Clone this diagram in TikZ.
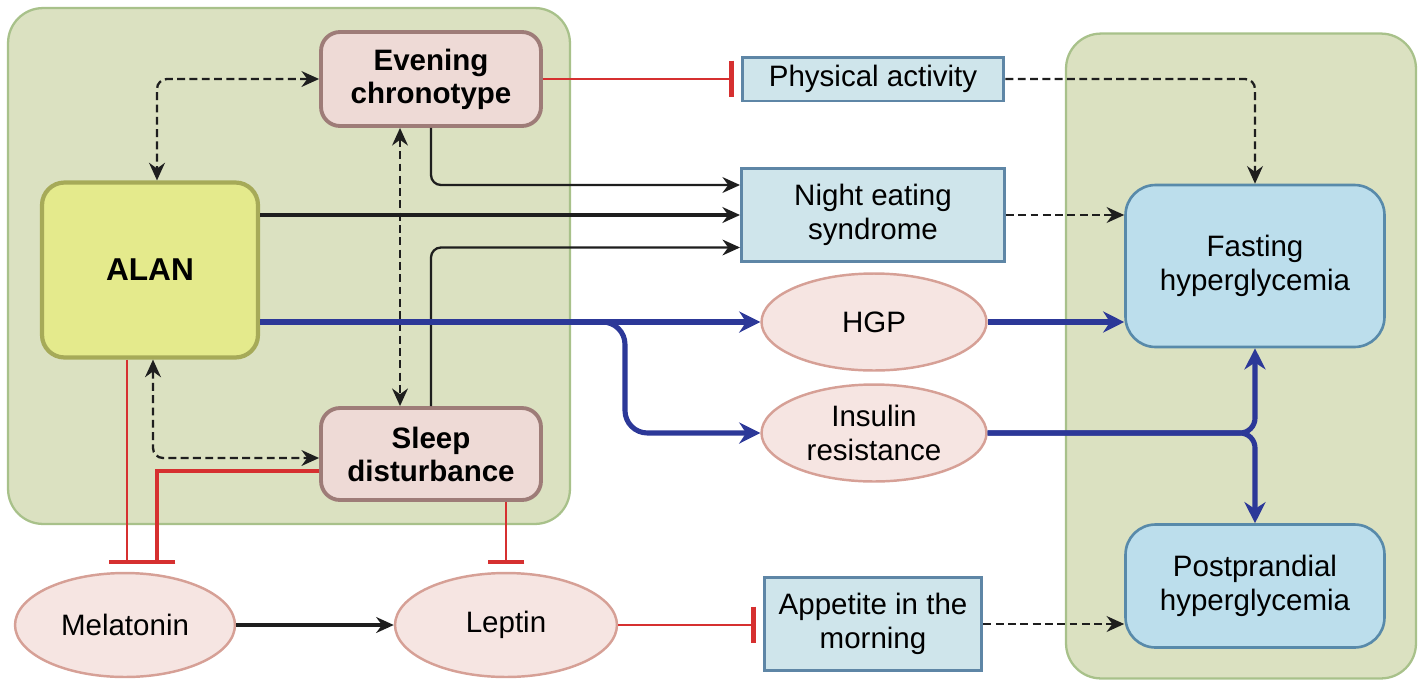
\documentclass[tikz,border=0pt]{standalone}
\usepackage{fontspec}
\setmainfont{Liberation Sans}
\usepackage{tikz}
\usetikzlibrary{shapes.geometric, arrows.meta, positioning, calc}
\definecolor{zonegreen}{RGB}{219,225,193}
\definecolor{zoneedge}{RGB}{168,193,138}
\definecolor{alanfill}{RGB}{228,234,140}
\definecolor{alanedge}{RGB}{166,170,88}
\definecolor{rosefill}{RGB}{238,218,214}
\definecolor{roseedge}{RGB}{158,124,120}
\definecolor{ovalfill}{RGB}{246,229,226}
\definecolor{ovaledge}{RGB}{214,160,150}
\definecolor{skyfill}{RGB}{207,229,235}
\definecolor{skyedge}{RGB}{94,134,166}
\definecolor{outfill}{RGB}{188,222,236}
\definecolor{outedge}{RGB}{88,138,170}
\definecolor{pathblue}{RGB}{44,56,152}
\definecolor{inhibred}{RGB}{214,48,48}
\definecolor{darkgray}{RGB}{30,30,30}

\begin{document}
\begin{tikzpicture}[
        x=0.02cm, y=-0.02cm,
        font=\fontsize{16.8}{19.5}\selectfont,
        zone/.style={rectangle, draw=zoneedge, fill=zonegreen, line width=1.3pt, rounded corners=0.7cm},
        factor/.style={rectangle, draw=roseedge, fill=rosefill, line width=2.2pt, rounded corners=0.38cm, align=center, font=\fontsize{16.8}{18.8}\selectfont\bfseries, minimum width=4.4cm, minimum height=1.86cm},
        source/.style={rectangle, draw=alanedge, fill=alanfill, line width=2.4pt, rounded corners=0.45cm, font=\fontsize{18}{20}\selectfont\bfseries, minimum width=4.32cm, minimum height=3.5cm},
        behav/.style={rectangle, draw=skyedge, fill=skyfill, line width=1.7pt, align=center, inner sep=0pt},
        marker/.style={ellipse, draw=ovaledge, fill=ovalfill, line width=1.4pt, align=center, inner sep=0pt, minimum width=4.5cm, minimum height=1.94cm},
        outcome/.style={rectangle, draw=outedge, fill=outfill, line width=1.5pt, rounded corners=0.6cm, align=center, minimum width=5.18cm},
        arrow/.style={-{Stealth[length=10pt, width=9pt]}, line width=1.3pt, draw=darkgray},
        dasharrow/.style={-{Stealth[length=10pt, width=9pt]}, line width=1.3pt, draw=darkgray, dash pattern=on 4.5pt off 2.5pt},
        twoway/.style={{Stealth[length=10pt, width=9pt]}-{Stealth[length=10pt, width=9pt]}, line width=1.3pt, draw=darkgray, dash pattern=on 4.5pt off 2.5pt},
        bluearrow/.style={-{Stealth[length=12pt, width=12pt]}, line width=2.9pt, draw=pathblue},
        inhibit/.style={-{Bar[width=21pt, line width=2.4pt]}, line width=1.4pt, draw=inhibred}
    ]
        \useasboundingbox (0,0) rectangle (1423,687);

        % shaded zones
        \node[zone, minimum width=11.24cm, minimum height=10.32cm] (leftzone) at (289,266) {};
        \node[zone, minimum width=7.0cm, minimum height=12.9cm] (rightzone) at (1241,356) {};

        % circadian factors
        \node[factor, minimum height=1.88cm] (evening) at (431,79) {Evening\\chronotype};
        \node[source] (alan) at (150,270) {ALAN};
        \node[factor, minimum height=1.84cm] (sleep) at (431,454) {Sleep\\disturbance};

        % behaviours and mechanisms
        \node[behav, minimum width=5.24cm, minimum height=0.88cm] (activity) at (873,79) {Physical activity};
        \node[behav, minimum width=5.26cm, minimum height=1.86cm] (nighteat) at (873,215) {Night eating\\syndrome};
        \node[marker] (hgp) at (874,322) {HGP};
        \node[marker] (insulin) at (874,433) {Insulin\\resistance};
        \node[marker, minimum width=4.4cm, minimum height=2.08cm] (melatonin) at (125,625) {Melatonin};
        \node[marker, minimum width=4.44cm, minimum height=2.08cm] (leptin) at (506,625) {Leptin};
        \node[behav, minimum width=4.36cm, minimum height=1.86cm] (appetite) at (873,624) {Appetite in the\\morning};

        % outcomes
        \node[outcome, minimum height=3.24cm] (fasting) at (1255,266) {Fasting\\hyperglycemia};
        \node[outcome, minimum height=2.46cm] (postprandial) at (1255,586) {Postprandial\\hyperglycemia};

        % mutual links inside the zone
        \draw[twoway, rounded corners=0.2cm] (evening.west) -| ([xshift=0.14cm]alan.north);
        \draw[twoway] ([xshift=-0.62cm]evening.south) -- ([xshift=-0.62cm]sleep.north);
        \draw[twoway, rounded corners=0.2cm] ([xshift=0.06cm]alan.south) |- ([yshift=-0.08cm]sleep.west);

        % to night eating
        \draw[arrow, rounded corners=0.2cm] (evening.south) |- ([yshift=0.6cm]nighteat.west);
        \draw[arrow, line width=1.8pt] (alan.east |- nighteat.west) -- (nighteat.west);
        \draw[arrow, rounded corners=0.2cm] (sleep.north) |- ([yshift=-0.65cm]nighteat.west);

        % blue pathway
        \draw[bluearrow] (alan.east |- hgp.west) -- (hgp.west);
        \draw[bluearrow, rounded corners=0.45cm] (alan.east |- hgp.west) -- (625,322) |- (insulin.west);
        \draw[bluearrow] (hgp.east) -- (hgp.east -| fasting.west);
        \draw[bluearrow, rounded corners=0.3cm] (insulin.east) -| (fasting.south);
        \draw[bluearrow, rounded corners=0.3cm] (insulin.east) -| (postprandial.north);

        % dashed effects on outcomes
        \draw[dasharrow, rounded corners=0.2cm] (activity.east) -| (fasting.north);
        \draw[dasharrow] (nighteat.east) -- (nighteat.east -| fasting.west);
        \draw[dasharrow] (appetite.east) -- (appetite.east -| postprandial.west);

        % hormones
        \draw[arrow, line width=1.9pt] (melatonin.east) -- (leptin.west);

        % inhibitions
        \draw[inhibit, shorten >=0.14cm] (evening.east) -- (evening.east -| activity.west);
        \draw[inhibit, shorten >=0.14cm] (leptin.east) -- (leptin.east -| appetite.west);
        \draw[inhibit, shorten >=0.16cm] ([xshift=-0.46cm]alan.south) -- ([xshift=-0.46cm]alan.south |- melatonin.north);
        \draw[inhibit, line width=1.8pt, shorten >=0.16cm] ([yshift=-0.34cm]sleep.west) -| ([xshift=0.64cm]melatonin.north);
        \draw[inhibit, shorten >=0.16cm] (leptin.north |- sleep.south) -- (leptin.north);
    \end{tikzpicture}
\end{document}
